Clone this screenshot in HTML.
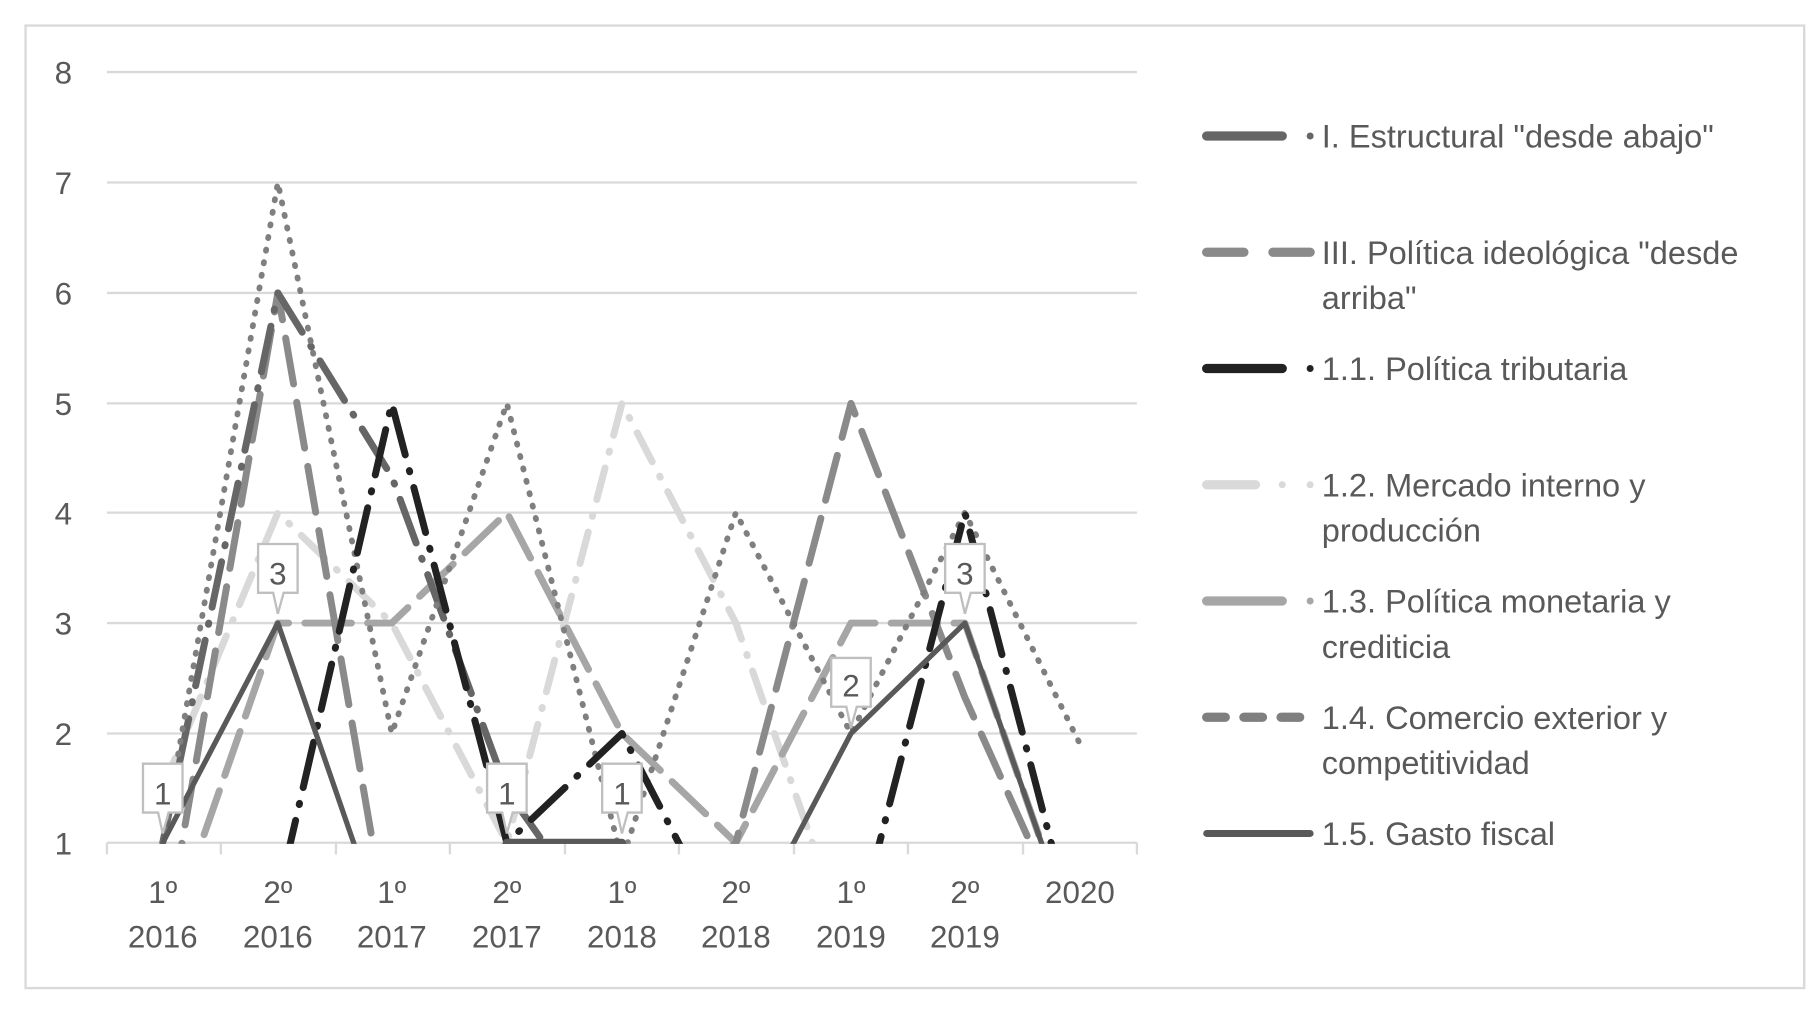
<!DOCTYPE html>
<html><head><meta charset="utf-8"><style>
html,body{margin:0;padding:0;background:#fff;width:1817px;height:1009px;overflow:hidden}
svg{display:block}
text{font-family:"Liberation Sans",sans-serif;fill:#595959}
</style></head><body>
<svg width="1817" height="1009" viewBox="0 0 1563 868" preserveAspectRatio="none" xmlns="http://www.w3.org/2000/svg">
<rect x="22" y="22" width="1530" height="828" fill="#fff" stroke="#d9d9d9" stroke-width="2"/>
<g stroke="#d9d9d9" stroke-width="2">
<line x1="92" y1="62" x2="978" y2="62"/><line x1="92" y1="157" x2="978" y2="157"/>
<line x1="92" y1="252" x2="978" y2="252"/><line x1="92" y1="347" x2="978" y2="347"/>
<line x1="92" y1="441" x2="978" y2="441"/><line x1="92" y1="536" x2="978" y2="536"/>
<line x1="92" y1="631" x2="978" y2="631"/><line x1="92" y1="725" x2="978" y2="725"/>
<line x1="92" y1="725" x2="92" y2="735"/><line x1="190" y1="725" x2="190" y2="735"/>
<line x1="289" y1="725" x2="289" y2="735"/><line x1="387" y1="725" x2="387" y2="735"/>
<line x1="486" y1="725" x2="486" y2="735"/><line x1="584" y1="725" x2="584" y2="735"/>
<line x1="683" y1="725" x2="683" y2="735"/><line x1="781" y1="725" x2="781" y2="735"/>
<line x1="880" y1="725" x2="880" y2="735"/><line x1="978" y1="725" x2="978" y2="735"/>
</g>
<g font-size="27" text-anchor="end">
<text x="62" y="72">8</text><text x="62" y="167">7</text><text x="62" y="262">6</text>
<text x="62" y="357">5</text><text x="62" y="451">4</text><text x="62" y="546">3</text>
<text x="62" y="641">2</text><text x="62" y="735">1</text>
</g>
<g font-size="27" text-anchor="middle">
<text x="140" y="777">1º</text><text x="140" y="815">2016</text>
<text x="239" y="777">2º</text><text x="239" y="815">2016</text>
<text x="337" y="777">1º</text><text x="337" y="815">2017</text>
<text x="436" y="777">2º</text><text x="436" y="815">2017</text>
<text x="535" y="777">1º</text><text x="535" y="815">2018</text>
<text x="633" y="777">2º</text><text x="633" y="815">2018</text>
<text x="732" y="777">1º</text><text x="732" y="815">2019</text>
<text x="830" y="777">2º</text><text x="830" y="815">2019</text>
<text x="929" y="777">2020</text>
</g>
<defs><clipPath id="c"><rect x="92" y="40" width="890" height="686"/></clipPath></defs>
<g clip-path="url(#c)" fill="none" stroke-linecap="round" stroke-linejoin="round">
<polyline stroke="#d9d9d9" stroke-width="6" stroke-dasharray="28 14 1 14" points="140,678 239,441 337,536 436,725 535,347 633,536 732,820 830,725 929,820"/>
<polyline stroke="#a6a6a6" stroke-width="6" stroke-dasharray="40 14" points="140,820 239,536 337,536 436,441 535,631 633,725 732,536 830,536 929,820"/>
<polyline stroke="#8a8a8a" stroke-width="6" stroke-dasharray="40 16" points="140,820 239,252 337,820 436,820 535,820 633,725 732,347 830,600 929,820"/>
<polyline stroke="#666" stroke-width="6" stroke-dasharray="40 14 1 14" points="140,725 239,252 337,410 436,680 535,820 633,820 732,820 830,820 929,820"/>
<polyline stroke="#7f7f7f" stroke-width="5" stroke-dasharray="1 10" points="140,725 239,157 337,631 436,347 535,740 633,441 732,631 830,441 929,640"/>
<polyline stroke="#222" stroke-width="6" stroke-dasharray="40 14 1 14" points="140,820 239,772 337,347 436,725 535,631 633,820 732,820 830,441 929,820"/>
<polyline stroke="#595959" stroke-width="4.5" points="140,725 239,536 337,820 436,725 535,725 633,820 732,631 830,536 929,820"/>
<line x1="436" y1="725" x2="535" y2="725" stroke="#595959" stroke-width="7"/>
</g>
<g font-size="27" text-anchor="middle">
<g><path d="M123,657 h34 v42 h-12 l-5,18 l-4,-18 h-13 z" fill="#fff" stroke="#bfbfbf" stroke-width="2"/><text x="140" y="692">1</text></g>
<g><path d="M222,468 h34 v42 h-12 l-5,18 l-4,-18 h-13 z" fill="#fff" stroke="#bfbfbf" stroke-width="2"/><text x="239" y="503">3</text></g>
<g><path d="M419,657 h34 v42 h-12 l-5,18 l-4,-18 h-13 z" fill="#fff" stroke="#bfbfbf" stroke-width="2"/><text x="436" y="692">1</text></g>
<g><path d="M518,657 h34 v42 h-12 l-5,18 l-4,-18 h-13 z" fill="#fff" stroke="#bfbfbf" stroke-width="2"/><text x="535" y="692">1</text></g>
<g><path d="M715,566 h34 v42 h-12 l-5,18 l-4,-18 h-13 z" fill="#fff" stroke="#bfbfbf" stroke-width="2"/><text x="732" y="599">2</text></g>
<g><path d="M813,468 h34 v42 h-12 l-5,18 l-4,-18 h-13 z" fill="#fff" stroke="#bfbfbf" stroke-width="2"/><text x="830" y="503">3</text></g>
</g>
<g stroke-linecap="round" stroke-width="8">
<line x1="1038" y1="117" x2="1103" y2="117" stroke="#666"/><circle cx="1127" cy="117" r="3" fill="#666"/>
<line x1="1038" y1="217" x2="1070" y2="217" stroke="#8a8a8a"/><line x1="1095" y1="217" x2="1127" y2="217" stroke="#8a8a8a"/>
<line x1="1038" y1="317" x2="1103" y2="317" stroke="#222"/><circle cx="1127" cy="317" r="3" fill="#222"/>
<line x1="1038" y1="417" x2="1080" y2="417" stroke="#d9d9d9"/><circle cx="1103" cy="417" r="3" fill="#d9d9d9"/><circle cx="1127" cy="417" r="3" fill="#d9d9d9"/>
<line x1="1038" y1="517" x2="1103" y2="517" stroke="#a6a6a6"/><circle cx="1127" cy="517" r="3" fill="#a6a6a6"/>
<line x1="1038" y1="617" x2="1054" y2="617" stroke="#7f7f7f"/><line x1="1070" y1="617" x2="1086" y2="617" stroke="#7f7f7f"/><line x1="1102" y1="617" x2="1118" y2="617" stroke="#7f7f7f"/>
<line x1="1038" y1="717" x2="1127" y2="717" stroke="#595959" stroke-width="6"/>
</g>
<g font-size="28">
<text x="1137" y="127">I. Estructural "desde abajo"</text>
<text x="1137" y="227">III. Política ideológica "desde</text><text x="1137" y="266">arriba"</text>
<text x="1137" y="327">1.1. Política tributaria</text>
<text x="1137" y="427">1.2. Mercado interno y</text><text x="1137" y="466">producción</text>
<text x="1137" y="527">1.3. Política monetaria y</text><text x="1137" y="566">crediticia</text>
<text x="1137" y="627">1.4. Comercio exterior y</text><text x="1137" y="666">competitividad</text>
<text x="1137" y="727">1.5. Gasto fiscal</text>
</g>
</svg>
</body></html>
